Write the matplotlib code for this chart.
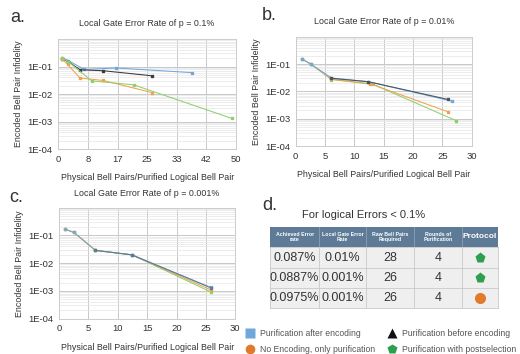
import numpy as np
import matplotlib
matplotlib.use("Agg")
import matplotlib.pyplot as plt
from matplotlib.patches import Rectangle

plt.rcParams['font.family'] = ['Liberation Sans', 'DejaVu Sans']

# ----------------------------
# Data
# ----------------------------
# panel a: p = 0.1%
a_blue_x = [1.1, 2.8, 7.3, 16.2, 37.6]
a_blue_y = [0.21, 0.165, 0.078, 0.088, 0.06]
a_black_x = [1.1, 2.8, 6.1, 12.7, 26.3]
a_black_y = [0.19, 0.15, 0.076, 0.07, 0.046]
a_orange_x = [1.1, 2.6, 6.1, 12.7, 26.3]
a_orange_y = [0.18, 0.122, 0.038, 0.031, 0.0113]
a_green_x = [1.1, 2.8, 9.4, 21.2, 48.8]
a_green_y = [0.2, 0.15, 0.030, 0.0216, 0.0013]

# panel b: p = 0.01%
b_blue_x = [1.0, 2.55, 6.1, 12.4, 26.6]
b_blue_y = [0.156, 0.1, 0.031, 0.0225, 0.0044]
b_black_x = [6.1, 12.4, 25.9]
b_black_y = [0.030, 0.0225, 0.0051]
b_orange_x = [1.0, 2.55, 6.1, 12.7, 25.9]
b_orange_y = [0.156, 0.1, 0.028, 0.019, 0.0018]
b_green_x = [1.0, 2.55, 6.1, 13.2, 27.4]
b_green_y = [0.156, 0.1, 0.027, 0.018, 0.00084]

# panel c: p = 0.001%
c_blue_x = [1.1, 2.55, 6.2, 12.4, 25.8]
c_blue_y = [0.166, 0.128, 0.029, 0.020, 0.00135]
c_black_x = [6.2, 12.4, 25.8]
c_black_y = [0.029, 0.020, 0.0013]
c_orange_x = [1.1, 2.55, 6.2, 12.4, 25.8]
c_orange_y = [0.166, 0.128, 0.029, 0.020, 0.0011]
c_green_x = [1.1, 2.55, 6.2, 12.4, 25.8]
c_green_y = [0.166, 0.128, 0.029, 0.020, 0.00093]

a_xticks = [0, 50 / 6, 100 / 6, 25, 200 / 6, 250 / 6, 50]
a_xticklabels = ['0', '8', '17', '25', '33', '42', '50']
bc_xticks = [0, 5, 10, 15, 20, 25, 30]
y_ticks = [1e-4, 1e-3, 1e-2, 1e-1]
y_ticklabels = ['1E-04', '1E-03', '1E-02', '1E-01']

# table
table_header = ['Achieved Error\nrate', 'Local Gate Error\nRate',
                'Raw Bell Pairs\nRequired', 'Rounds of\nPurification', 'Protocol']
table_error = ['0.087%', '0.0887%', '0.0975%']
table_local = ['0.01%', '0.001%', '0.001%']
table_pairs = ['28', '26', '26']
table_rounds = ['4', '4', '4']
table_protocol = ['postselect', 'postselect', 'no_encoding']

BLUE = '#6fa8dc'
BLACK = '#3a3a3a'
ORANGE = '#f3a04f'
GREEN = '#8fd06a'
TEXT = '#333333'

W, H = 520, 354
fig = plt.figure(figsize=(W / 100, H / 100), dpi=100)


def px_axes(left, top, right, bottom):
    return fig.add_axes([left / W, 1 - bottom / H, (right - left) / W, (bottom - top) / H])


def style_axes(ax, xmax, xticks, xticklabels):
    ax.set_yscale('log')
    ax.set_ylim(1e-4, 1)
    ax.set_xlim(0, xmax)
    ax.set_xticks(xticks)
    ax.set_xticklabels(xticklabels)
    ax.set_yticks(y_ticks)
    ax.set_yticklabels(y_ticklabels)
    ax.yaxis.set_minor_locator(matplotlib.ticker.LogLocator(base=10, subs=np.arange(2, 10)))
    ax.yaxis.set_minor_formatter(matplotlib.ticker.NullFormatter())
    ax.tick_params(which='both', length=0, labelsize=6.8, colors=TEXT, pad=4)
    ax.grid(True, which='major', color='#c8c8c8', lw=0.7)
    ax.grid(True, which='minor', axis='y', color='#e6e6e6', lw=0.5)
    ax.set_axisbelow(True)
    for s in ax.spines.values():
        s.set_color('#cccccc')
        s.set_linewidth(0.7)
    ax.set_ylabel('Encoded Bell Pair Infidelity', fontsize=6.4, color=TEXT, labelpad=3)
    ax.set_xlabel('Physical Bell Pairs/Purified Logical Bell Pair', fontsize=6.4,
                  color=TEXT, labelpad=7)


def plot_series(ax, series):
    for x, y, c in series:
        ax.plot(x, y, color=c, lw=0.75, marker='s', ms=1.5, mec=c, mfc=c)


ax_a = px_axes(58.3, 39, 236, 149)
plot_series(ax_a, [(a_blue_x, a_blue_y, BLUE), (a_black_x, a_black_y, BLACK),
                   (a_orange_x, a_orange_y, ORANGE), (a_green_x, a_green_y, GREEN)])
style_axes(ax_a, 50, a_xticks, a_xticklabels)

ax_b = px_axes(295.7, 36.7, 471.7, 146)
plot_series(ax_b, [(b_green_x, b_green_y, GREEN), (b_orange_x, b_orange_y, ORANGE),
                   (b_blue_x, b_blue_y, BLUE), (b_black_x, b_black_y, '#4a5560')])
style_axes(ax_b, 30, bc_xticks, [str(t) for t in bc_xticks])

ax_c = px_axes(59, 207.7, 235.3, 318.7)
plot_series(ax_c, [(c_green_x, c_green_y, GREEN), (c_orange_x, c_orange_y, ORANGE),
                   (c_blue_x, c_blue_y, '#7fa9c4'), (c_black_x, c_black_y, '#5b7e98')])
style_axes(ax_c, 30, bc_xticks, [str(t) for t in bc_xticks])

# panel letters and titles
fig.text(10 / W, 1 - 18 / H, 'a.', fontsize=13, color=TEXT, va='center')
fig.text(262 / W, 1 - 15 / H, 'b.', fontsize=13, color=TEXT, va='center')
fig.text(9 / W, 1 - 198 / H, 'c.', fontsize=13, color=TEXT, va='center')
fig.text(262 / W, 1 - 205 / H, 'd.', fontsize=13, color=TEXT, va='center')
fig.text(147 / W, 1 - 23 / H, 'Local Gate Error Rate of p = 0.1%', fontsize=6.4,
         color=TEXT, ha='center', va='center')
fig.text(384 / W, 1 - 21 / H, 'Local Gate Error Rate of p = 0.01%', fontsize=6.4,
         color=TEXT, ha='center', va='center')
fig.text(147 / W, 1 - 193 / H, 'Local Gate Error Rate of p = 0.001%', fontsize=6.4,
         color=TEXT, ha='center', va='center')
fig.text(364 / W, 1 - 215 / H, 'For logical Errors < 0.1%', fontsize=8,
         color=TEXT, ha='center', va='center')

# ----------------------------
# Table (pixel coordinates)
# ----------------------------
ax_t = fig.add_axes([0, 0, 1, 1])
ax_t.set_xlim(0, W)
ax_t.set_ylim(H, 0)
ax_t.axis('off')

col_edges = [270, 319.3, 366, 414, 461.7, 498.3]
row_edges = [226.7, 247.3, 268, 288, 308]
ax_t.add_patch(Rectangle((col_edges[0], row_edges[0]), col_edges[-1] - col_edges[0],
                         row_edges[1] - row_edges[0], color='#5d7b96', lw=0))
ax_t.add_patch(Rectangle((col_edges[0], row_edges[1]), col_edges[-1] - col_edges[0],
                         row_edges[-1] - row_edges[1], color='#efefef', lw=0))
for xe in col_edges[1:-1]:
    ax_t.plot([xe, xe], [row_edges[0], row_edges[1]], color='#8aa0b4', lw=0.6)
    ax_t.plot([xe, xe], [row_edges[1], row_edges[-1]], color='#c9c9c9', lw=0.6)
for ye in row_edges[1:]:
    ax_t.plot([col_edges[0], col_edges[-1]], [ye, ye], color='#c9c9c9', lw=0.6)
ax_t.plot([col_edges[0], col_edges[0]], [row_edges[1], row_edges[-1]], color='#c9c9c9', lw=0.6)
ax_t.plot([col_edges[-1], col_edges[-1]], [row_edges[1], row_edges[-1]], color='#c9c9c9', lw=0.6)

for i, h in enumerate(table_header):
    xc = (col_edges[i] + col_edges[i + 1]) / 2
    fs = 6 if h == 'Protocol' else 3.8
    ax_t.text(xc, (row_edges[0] + row_edges[1]) / 2, h, color='white', fontsize=fs,
              weight='bold', ha='center', va='center', linespacing=1.0)

cols = [table_error, table_local, table_pairs, table_rounds]
for r in range(3):
    yc = (row_edges[r + 1] + row_edges[r + 2]) / 2
    for ci, col in enumerate(cols):
        xc = (col_edges[ci] + col_edges[ci + 1]) / 2
        ax_t.text(xc, yc, col[r], color=TEXT, fontsize=9, ha='center', va='center')
    xc = (col_edges[4] + col_edges[5]) / 2
    if table_protocol[r] == 'postselect':
        ax_t.plot(xc, yc, marker='p', ms=8, color='#2e9e4f', mec='none')
    else:
        ax_t.plot(xc, yc, marker='o', ms=8, color='#e07b2e', mec='none')

# ----------------------------
# Legend
# ----------------------------
leg_items = [
    (250, 333, 's', BLUE, 'Purification after encoding'),
    (392, 333, '^', '#111111', 'Purification before encoding'),
    (250, 349, 'o', '#e07b2e', 'No Encoding, only purification'),
    (392, 349, 'p', '#2e9e4f', 'Purification with postselection'),
]
for lx, ly, m, c, lab in leg_items:
    ax_t.plot(lx, ly, marker=m, ms=7, color=c, mec='none')
    ax_t.text(lx + 10, ly, lab, fontsize=6.2, color='#555555', va='center')

fig.savefig('out.png', dpi=100)
